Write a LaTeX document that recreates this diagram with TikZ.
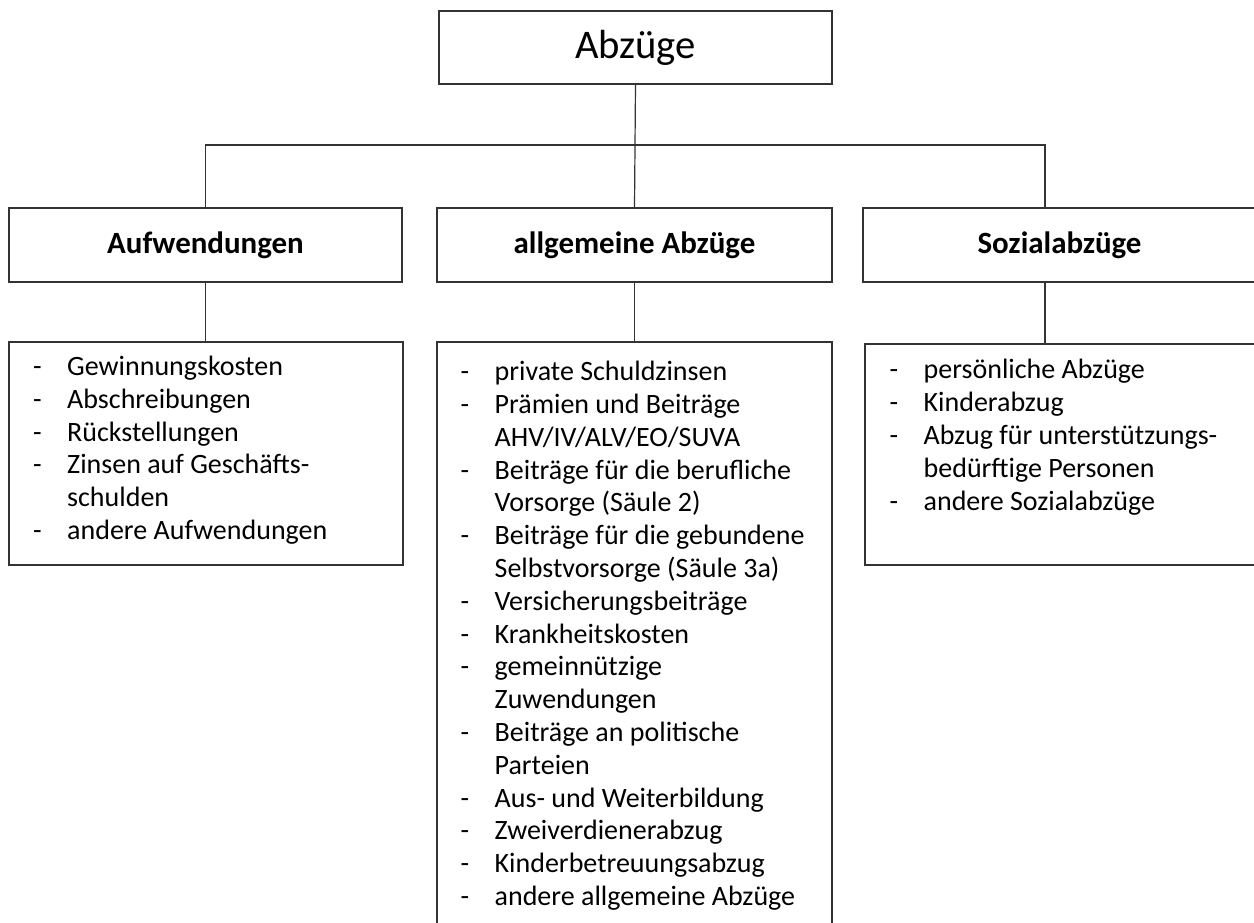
\documentclass[tikz,border=0pt]{standalone}
\usepackage{fontspec}
\setmainfont{Carlito}
\tikzset{
  box/.style={draw=black!80, line width=0.9pt, rectangle, inner sep=0pt},
  conn/.style={draw=black!80, line width=0.9pt},
  lst/.style={anchor=base west, align=left, inner sep=0pt, font=\fontsize{21}{24.6}\selectfont},
  head/.style={font=\bfseries\fontsize{23.2}{26}\selectfont},
  ttl/.style={font=\fontsize{30.5}{33}\selectfont},
}
\newcommand\dsh{\makebox[25.5pt][l]{-}}
\newcommand\ind{\hspace*{25.5pt}}
\begin{document}
\begin{tikzpicture}[x=0.75pt,y=-0.75pt]
\useasboundingbox (0,0) rectangle (1254,922);
\clip (0,0) rectangle (1254,922);
% top
\node[box,ttl,minimum width=294.75pt,minimum height=54.75pt] (top) at (635.5,47.5) {Abzüge};
% level 2
\node[box,head,minimum width=294.75pt,minimum height=55.5pt] (l2) at (205.5,245) {Aufwendungen};
\node[box,head,minimum width=296.25pt,minimum height=55.5pt] (m2) at (634.5,245) {allgemeine Abzüge};
\node[box,head,minimum width=294.75pt,minimum height=55.5pt] (r2) at (1059.5,245) {Sozialabzüge};
% level 3
\node[box,minimum width=295.5pt,minimum height=167.25pt] (l3) at (206,453.5) {};
\node[box,minimum width=296.25pt,minimum height=456pt] (m3) at (634.5,646) {};
\node[box,minimum width=294.75pt,minimum height=165.75pt] (r3) at (1061.5,454.5) {};
% lists (anchored at the baseline of their last line)
\node[lst] (t1) at ([xshift=18.4pt,yshift=-148.5pt]l3.north west) {%
\dsh Gewinnungskosten\\
\dsh Abschreibungen\\
\dsh Rückstellungen\\
\dsh Zinsen auf Geschäfts-\\
\ind schulden\\
\dsh andere Aufwendungen};
\node[lst] (t2) at ([xshift=18pt,yshift=-423pt]m3.north west) {%
\dsh private Schuldzinsen\\
\dsh Prämien und Beiträge\\
\ind AHV/IV/ALV/EO/SUVA\\
\dsh Beiträge für die berufliche\\
\ind Vorsorge (Säule 2)\\
\dsh Beiträge für die gebundene\\
\ind Selbstvorsorge (Säule 3a)\\
\dsh Versicherungsbeiträge\\
\dsh Krankheitskosten\\
\dsh gemeinnützige\\
\ind Zuwendungen\\
\dsh Beiträge an politische\\
\ind Parteien\\
\dsh Aus- und Weiterbildung\\
\dsh Zweiverdienerabzug\\
\dsh Kinderbetreuungsabzug\\
\dsh andere allgemeine Abzüge};
\node[lst] (t3) at ([xshift=18.75pt,yshift=-125pt]r3.north west) {%
\dsh persönliche Abzüge\\
\dsh Kinderabzug\\
\dsh Abzug für unterstützungs-\\
\ind bedürftige Personen\\
\dsh andere Sozialabzüge};
% connectors
\coordinate (rj) at (1045,145);
\draw[conn] (top.south) -- (m2.north);
\draw[conn] (l2.north) |- (rj) -- (rj |- r2.north);
\draw[conn] (l2.south) -- (l2.south |- l3.north);
\draw[conn] (m2.south) -- (m2.south |- m3.north);
\draw[conn] (rj |- r2.south) -- (rj |- r3.north);
\end{tikzpicture}
\end{document}
